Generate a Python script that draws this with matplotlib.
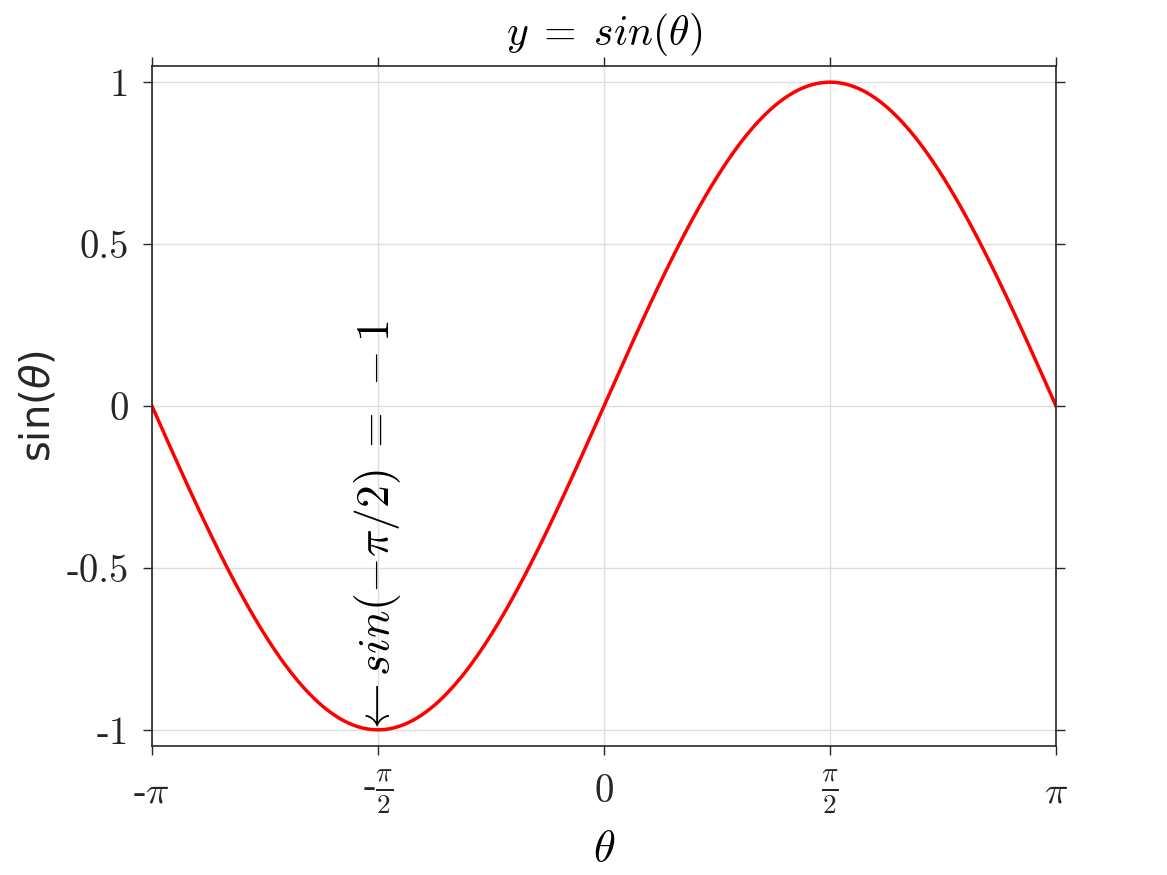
import numpy as np
import matplotlib.pyplot as plt

plt.rcParams['mathtext.fontset'] = 'cm'
plt.rcParams['font.family'] = 'cmr10'
plt.rcParams['axes.unicode_minus'] = False

theta = np.linspace(-np.pi, np.pi, 400)
y = np.sin(theta)

xticks = [-np.pi, -np.pi / 2, 0, np.pi / 2, np.pi]
xticklabels = [r'-$\pi$', r'-$\frac{\pi}{2}$', '0', r'$\frac{\pi}{2}$', r'$\pi$']
yticks = [-1, -0.5, 0, 0.5, 1]
yticklabels = ['-1', '-0.5', '0', '0.5', '1']

fig = plt.figure(figsize=(11.67, 8.75), dpi=100)
ax = fig.add_axes([0.1302, 0.1474, 0.7747, 0.7772])

ax.plot(theta, y, color='red', linewidth=2.5)

ax.set_xlim(-np.pi, np.pi)
ax.set_ylim(-1.05, 1.05)
ax.set_xticks(xticks)
ax.set_xticklabels(xticklabels)
ax.set_yticks(yticks)
ax.set_yticklabels(yticklabels)

edge = '#262626'
for s in ax.spines.values():
    s.set_color(edge)
    s.set_linewidth(1.2)
ax.tick_params(direction='out', length=6.5, width=1.0, color=edge,
               labelsize=28, labelcolor='#262626',
               top=True, right=True, labeltop=False, labelright=False)
ax.tick_params(axis='x', pad=27)
ax.tick_params(axis='y', pad=10)
for lab in ax.get_xticklabels():
    lab.set_verticalalignment('center')
ax.grid(True, color='#dedede', linewidth=1.0)
ax.set_axisbelow(True)

ax.set_title(r'$y\;=\;sin(\theta)$', fontsize=30, pad=15)
ax.set_xlabel(r'$\theta$', fontsize=32, labelpad=10)
ax.set_ylabel(r'sin($\theta$)', fontsize=29, family='DejaVu Sans',
              math_fontfamily='dejavusans', color='#262626', labelpad=6)

ax.annotate(r'$\leftarrow sin(-\pi/2)\;=\;-1$', xy=(-np.pi / 2, -1),
            xytext=(0, -5), textcoords='offset points', rotation=90,
            ha='center', va='bottom', fontsize=33)

fig.savefig('out.png', dpi=100)
